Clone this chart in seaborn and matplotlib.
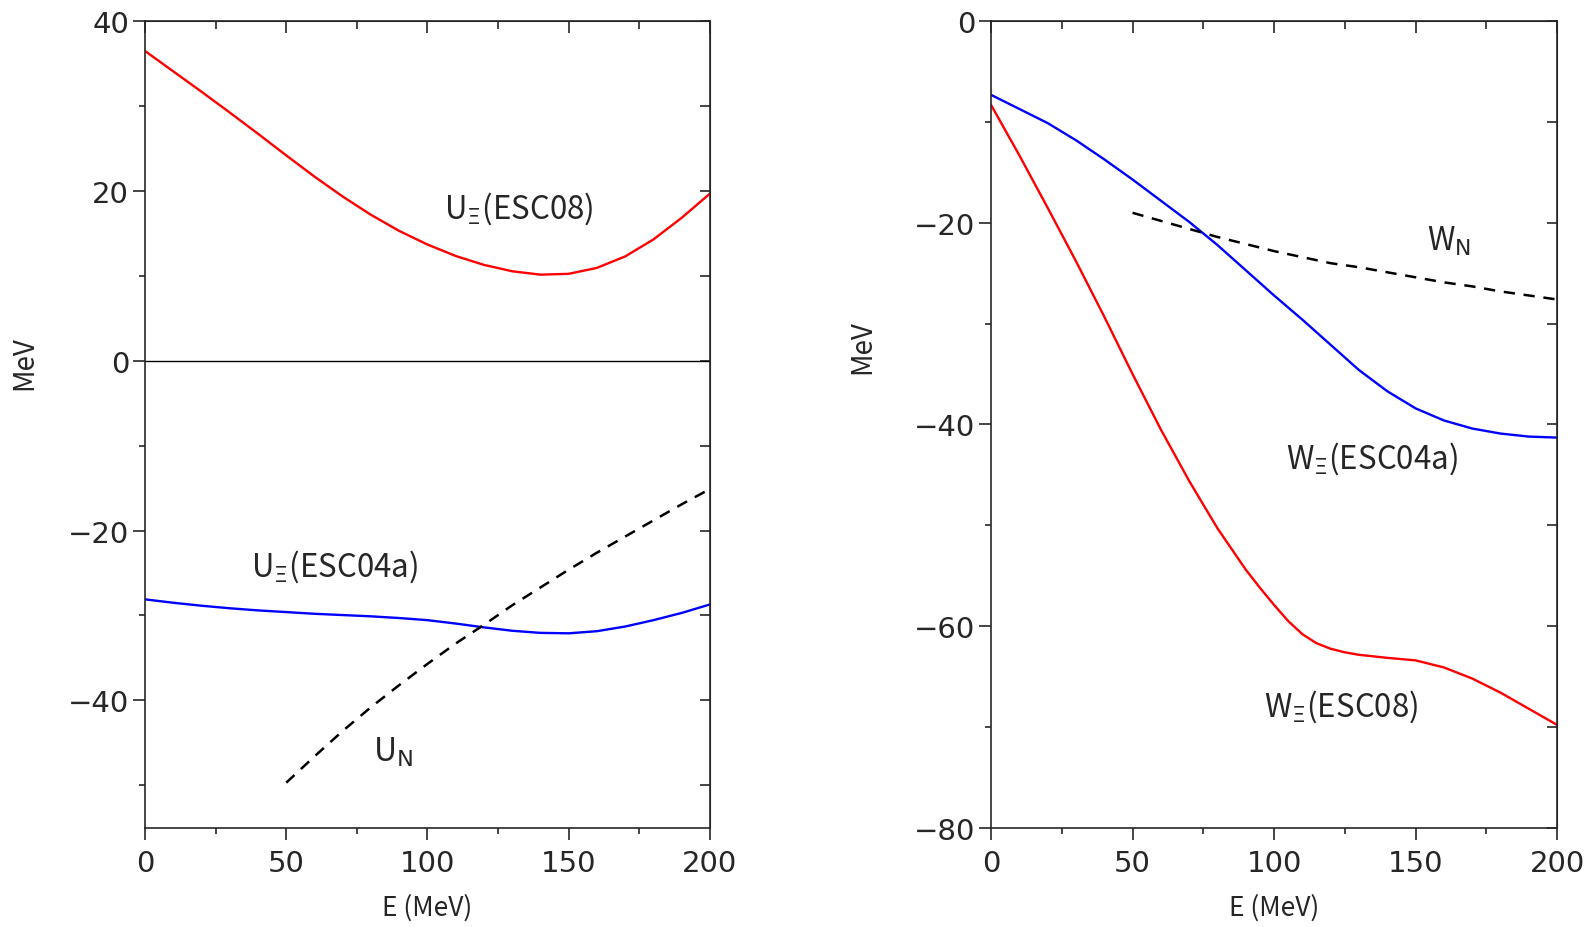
import matplotlib
matplotlib.use("Agg")
import matplotlib.pyplot as plt
import seaborn as sns
from matplotlib.ticker import MultipleLocator

sns.set_style("ticks")
plt.rcParams['font.family'] = ['DejaVu Sans']
plt.rcParams['axes.unicode_minus'] = True

# Left panel: real part U (MeV) vs E (MeV)
E_full = [0, 10, 20, 30, 40, 50, 60, 70, 80, 90, 100,
          110, 120, 130, 140, 150, 160, 170, 180, 190, 200]
U_xi_esc08 = [36.5, 34.1, 31.7, 29.25, 26.75, 24.2, 21.7, 19.35, 17.2, 15.3, 13.7,
              12.35, 11.3, 10.55, 10.15, 10.25, 10.95, 12.3, 14.3, 16.85, 19.7]
U_xi_esc04a = [-28.1, -28.5, -28.85, -29.15, -29.4, -29.6, -29.8, -29.95, -30.1, -30.3, -30.55,
               -30.95, -31.4, -31.8, -32.05, -32.1, -31.85, -31.3, -30.55, -29.7, -28.7]
E_nuc = [50, 60, 70, 80, 90, 100, 110, 120, 130, 140, 150, 160, 170, 180, 190, 200]
U_nuc = [-49.7, -46.6, -43.6, -40.8, -38.2, -35.7, -33.3, -31.1, -28.8, -26.7,
         -24.6, -22.6, -20.7, -18.8, -16.9, -15.1]

# Right panel: imaginary part W (MeV) vs E (MeV)
E_w08 = [0, 10, 20, 30, 40, 50, 60, 70, 80, 90, 95, 100, 105, 110, 115,
         120, 125, 130, 135, 140, 150, 160, 170, 180, 190, 200]
W_xi_esc08 = [-8.3, -13.3, -18.5, -23.8, -29.3, -35.0, -40.5, -45.6, -50.3, -54.4, -56.2,
              -57.9, -59.5, -60.8, -61.7, -62.25, -62.6, -62.85, -63.0, -63.15,
              -63.4, -64.1, -65.2, -66.6, -68.2, -69.8]
W_xi_esc04a = [-7.3, -8.7, -10.1, -11.8, -13.7, -15.7, -17.8, -19.9, -22.2, -24.7, -27.2,
               -29.6, -32.1, -34.6, -36.7, -38.4, -39.6, -40.4, -40.9, -41.2, -41.3]
W_nuc = [-19.0, -19.8, -20.6, -21.4, -22.1, -22.8, -23.4, -24.0, -24.4, -24.9,
         -25.4, -25.9, -26.3, -26.8, -27.2, -27.6]

label_font = ['Noto Sans CJK JP', 'DejaVu Sans']
dash = (0, (4.5, 3.5))

fig = plt.figure(figsize=(15.9, 9.28), dpi=100)
ax1 = fig.add_axes([0.0912, 0.107, 0.3553, 0.869])
ax2 = fig.add_axes([0.6233, 0.107, 0.3560, 0.869])

# left panel
sns.lineplot(x=E_full, y=U_xi_esc08, ax=ax1, color='#ff0000', lw=1.7)
sns.lineplot(x=E_full, y=U_xi_esc04a, ax=ax1, color='#0000ff', lw=1.7)
sns.lineplot(x=E_nuc, y=U_nuc, ax=ax1, color='black', lw=1.8, linestyle=dash)
ax1.axhline(0, color='black', lw=1.0)
ax1.set_xlim(0, 200)
ax1.set_ylim(-55, 40)
ax1.yaxis.set_major_locator(MultipleLocator(20))
ax1.yaxis.set_minor_locator(MultipleLocator(10))
ax1.text(106, 18.1, r'U$_{\Xi}$(ESC08)', fontsize=22.5, family=label_font, va='center')
ax1.text(37.7, -24.1, r'U$_{\Xi}$(ESC04a)', fontsize=22.5, family=label_font, va='center')
ax1.text(80.8, -46, r'U$_{\rm N}$', fontsize=23, family=label_font, va='center')

# right panel
sns.lineplot(x=E_w08, y=W_xi_esc08, ax=ax2, color='#ff0000', lw=1.7)
sns.lineplot(x=E_full, y=W_xi_esc04a, ax=ax2, color='#0000ff', lw=1.7)
sns.lineplot(x=E_nuc, y=W_nuc, ax=ax2, color='black', lw=1.8, linestyle=dash)
ax2.set_xlim(0, 200)
ax2.set_ylim(-80, 0)
ax2.yaxis.set_major_locator(MultipleLocator(20))
ax2.yaxis.set_minor_locator(MultipleLocator(10))
ax2.text(154, -21.7, r'W$_{\rm N}$', fontsize=22.5, family=label_font, va='center')
ax2.text(104.3, -43.3, r'W$_{\Xi}$(ESC04a)', fontsize=22.5, family=label_font, va='center')
ax2.text(96.4, -67.9, r'W$_{\Xi}$(ESC08)', fontsize=22.5, family=label_font, va='center')

for ax, lx, ly in [(ax1, -0.188, 0.577), (ax2, -0.201, 0.597)]:
    ax.xaxis.set_major_locator(MultipleLocator(50))
    ax.xaxis.set_minor_locator(MultipleLocator(25))
    for s in ax.spines.values():
        s.set_visible(True)
        s.set_linewidth(1.2)
    ax.tick_params(which='major', direction='out', length=8.5, width=1.2,
                   labelsize=21, top=False, right=False)
    ax.tick_params(which='minor', direction='out', length=4.5, width=1.2,
                   top=False, right=False)
    ax.tick_params(axis='x', which='major', pad=7)
    ax.tick_params(axis='y', which='major', pad=3)
    ax.set_xlabel('E (MeV)', fontsize=19, family=label_font)
    ax.set_ylabel('MeV', fontsize=20, family=label_font)
    ax.xaxis.set_label_coords(0.5, -0.082)
    ax.yaxis.set_label_coords(lx, ly)

    top = ax.secondary_xaxis('top')
    top.xaxis.set_major_locator(MultipleLocator(50))
    top.xaxis.set_minor_locator(MultipleLocator(25))
    top.tick_params(which='major', direction='in', length=8.5, width=1.2, labeltop=False)
    top.tick_params(which='minor', direction='in', length=5.5, width=1.2)
    right = ax.secondary_yaxis('right')
    right.yaxis.set_major_locator(MultipleLocator(10))
    right.tick_params(which='major', direction='in', length=7, width=1.2, labelright=False)

fig.savefig('out.png', dpi=100)
